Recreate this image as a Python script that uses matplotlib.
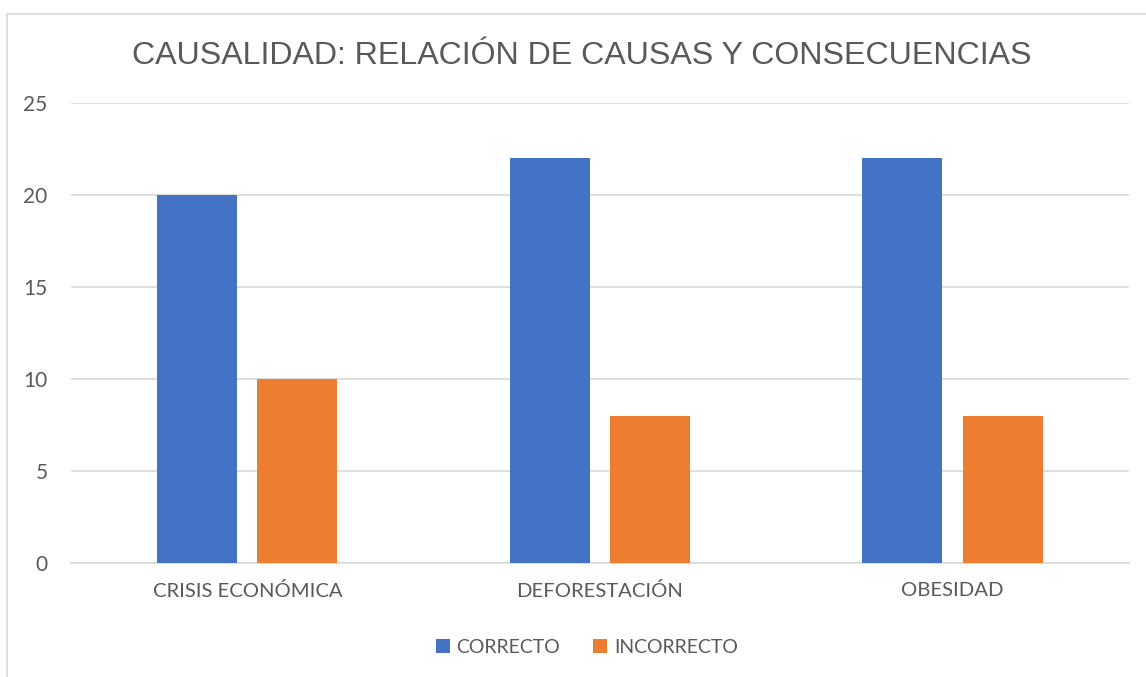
import matplotlib.pyplot as plt
import numpy as np
from matplotlib.lines import Line2D

categories = ["CRISIS ECONÓMICA", "DEFORESTACIÓN", "OBESIDAD"]
correcto = [20, 22, 22]
incorrecto = [10, 8, 8]
yticks = [0, 5, 10, 15, 20, 25]

BLUE = "#4472C4"
ORANGE = "#ED7D31"
TEXT = "#595959"
GRID = "#D9D9D9"


def main():
    plt.rcParams['font.family'] = ['Lato', 'DejaVu Sans']
    fig = plt.figure(figsize=(11.46, 6.77), dpi=100)
    ax = fig.add_axes([0.062, 0.1684, 0.923, 0.6795])

    x = np.arange(len(categories))
    w = 0.227
    off = 0.142
    ax.bar(x - off, correcto, w, color=BLUE, label="CORRECTO", zorder=3)
    ax.bar(x + off, incorrecto, w, color=ORANGE, label="INCORRECTO", zorder=3)

    ax.set_xlim(-0.5, len(categories) - 0.5)
    ax.set_ylim(0, 25)
    ax.set_yticks(yticks)
    ax.set_xticks(x)
    ax.set_xticklabels(categories)
    ax.tick_params(axis='both', length=0, colors=TEXT)
    ax.tick_params(axis='y', pad=17, labelsize=15)
    ax.tick_params(axis='x', pad=14, labelsize=14.6)
    ax.grid(axis='y', color=GRID, linewidth=1.2, zorder=0)
    for s in ['top', 'right', 'left']:
        ax.spines[s].set_visible(False)
    ax.spines['bottom'].set_color(GRID)
    ax.spines['bottom'].set_linewidth(1.2)

    fig.text(0.508, 0.918, "CAUSALIDAD: RELACIÓN DE CAUSAS Y CONSECUENCIAS",
             ha='center', va='center', fontsize=23.1, color=TEXT,
             family=['Liberation Sans', 'DejaVu Sans'])

    fig.legend(loc='center', bbox_to_anchor=(0.512, 0.044), ncol=2,
               frameon=False, fontsize=14, labelcolor=TEXT,
               handlelength=0.72, handleheight=0.72, handletextpad=0.35,
               columnspacing=1.7)

    # chart area border (partly cropped)
    fig.add_artist(Line2D([7 / 1146, 7 / 1146], [0, 1 - 14 / 677],
                          transform=fig.transFigure, color=GRID, lw=1.2))
    fig.add_artist(Line2D([7 / 1146, 1], [1 - 14 / 677, 1 - 14 / 677],
                          transform=fig.transFigure, color=GRID, lw=1.2))

    fig.savefig("out.png", dpi=100)


if __name__ == "__main__":
    main()
